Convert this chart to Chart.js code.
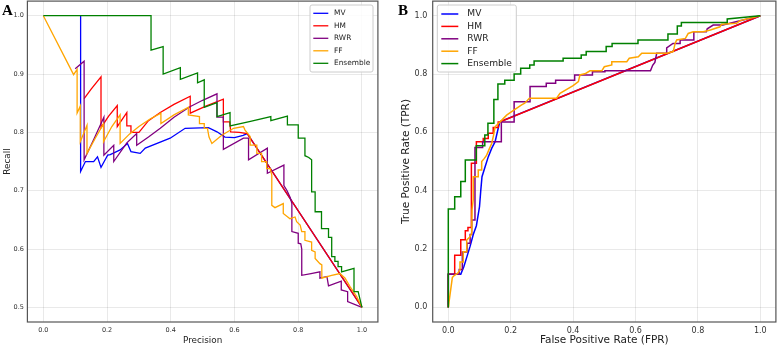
<!DOCTYPE html>
<html>
<head>
<meta charset="utf-8">
<script src="https://cdn.jsdelivr.net/npm/chart.js@4.4.0/dist/chart.umd.min.js"></script>
<style>
  body { margin: 0; background: #fff; }
  #wrap { position: relative; width: 777px; height: 348px; overflow: hidden; }
  canvas { position: absolute; top: 0; }
  .tag { position: absolute; font-family: "Liberation Serif", "DejaVu Serif", serif; font-weight: bold; font-size: 15px; line-height: 1; color: #000; }
</style>
</head>
<body>
<div id="wrap">
  <canvas id="chartA" width="388" height="348" style="left:0"></canvas>
  <canvas id="chartB" width="389" height="348" style="left:388px"></canvas>
  <div class="tag" style="left:2px; top:3px">A</div>
  <div class="tag" style="left:398px; top:3px">B</div>
</div>
<script>
// series names + colours (same order in both panels)
const seriesNames = ["MV", "HM", "RWR", "FF", "Ensemble"];
const seriesColors = ["#0000ff", "#ff0000", "#800080", "#ffa500", "#008000"];

// tick labels
const prXTicks = [0.0, 0.2, 0.4, 0.6, 0.8, 1.0];
const prYTicks = [0.5, 0.6, 0.7, 0.8, 0.9, 1.0];
const rocTicks = [0.0, 0.2, 0.4, 0.6, 0.8, 1.0];

// panel A : [precision, recall] pairs
const prMV = [[0.117,1.0],[0.117,0.733],[0.132,0.75],[0.158,0.75],[0.170,0.758],[0.181,0.74],[0.194,0.753],[0.202,0.761],[0.210,0.762],[0.241,0.770],[0.264,0.781],[0.275,0.767],[0.304,0.764],[0.320,0.773],[0.398,0.790],[0.445,0.807],[0.518,0.808],[0.545,0.801],[0.57,0.792],[0.60,0.791],[0.627,0.795],[0.64,0.798],[1.0,0.5]];
const prHM = [[0.128,0.858],[0.15,0.874],[0.181,0.895],[0.181,0.808],[0.205,0.828],[0.232,0.846],[0.232,0.81],[0.262,0.834],[0.262,0.811],[0.275,0.811],[0.275,0.80],[0.30,0.80],[0.33,0.82],[0.367,0.834],[0.41,0.848],[0.461,0.862],[0.461,0.833],[0.51,0.845],[0.565,0.857],[0.565,0.818],[0.585,0.818],[0.588,0.801],[0.615,0.80],[0.64,0.798],[1.0,0.5]];
const prRWR = [[0.10,0.909],[0.128,0.922],[0.128,0.753],[0.16,0.79],[0.19,0.826],[0.19,0.761],[0.221,0.778],[0.221,0.750],[0.262,0.782],[0.293,0.798],[0.293,0.778],[0.33,0.792],[0.367,0.807],[0.41,0.826],[0.46,0.844],[0.50,0.855],[0.545,0.866],[0.545,0.826],[0.565,0.826],[0.565,0.771],[0.628,0.79],[0.644,0.79],[0.644,0.753],[0.703,0.773],[0.703,0.730],[0.755,0.744],[0.755,0.709],[0.765,0.70],[0.775,0.688],[0.78,0.678],[0.78,0.630],[0.80,0.627],[0.80,0.61],[0.808,0.609],[0.811,0.60],[0.811,0.555],[0.84,0.558],[0.868,0.561],[0.868,0.55],[0.89,0.553],[0.895,0.537],[0.935,0.545],[0.935,0.53],[0.955,0.527],[0.955,0.51],[1.0,0.5]];
const prFF = [[0,1.0],[0.095,0.899],[0.106,0.908],[0.106,0.833],[0.116,0.845],[0.116,0.784],[0.137,0.812],[0.137,0.764],[0.163,0.790],[0.189,0.815],[0.189,0.784],[0.215,0.81],[0.241,0.830],[0.241,0.781],[0.27,0.797],[0.30,0.81],[0.335,0.823],[0.369,0.833],[0.369,0.815],[0.41,0.83],[0.455,0.843],[0.455,0.830],[0.49,0.827],[0.49,0.815],[0.505,0.815],[0.505,0.807],[0.515,0.807],[0.52,0.792],[0.529,0.781],[0.56,0.795],[0.597,0.807],[0.628,0.81],[0.633,0.804],[0.649,0.793],[0.649,0.778],[0.670,0.778],[0.670,0.764],[0.685,0.764],[0.685,0.750],[0.701,0.750],[0.701,0.738],[0.712,0.738],[0.717,0.727],[0.717,0.675],[0.727,0.671],[0.753,0.678],[0.753,0.661],[0.774,0.652],[0.79,0.655],[0.795,0.647],[0.806,0.641],[0.811,0.630],[0.821,0.630],[0.821,0.615],[0.842,0.612],[0.842,0.598],[0.853,0.595],[0.853,0.584],[0.868,0.575],[0.874,0.573],[0.874,0.550],[0.905,0.555],[0.931,0.558],[0.947,0.550],[0.962,0.536],[0.973,0.527],[0.983,0.519],[1.0,0.5]];
const prEns = [[0,1.0],[0.338,1.0],[0.338,0.941],[0.376,0.947],[0.376,0.900],[0.43,0.911],[0.43,0.891],[0.484,0.902],[0.484,0.885],[0.505,0.890],[0.505,0.843],[0.545,0.851],[0.545,0.827],[0.586,0.834],[0.586,0.811],[0.65,0.819],[0.714,0.827],[0.714,0.820],[0.766,0.828],[0.766,0.813],[0.80,0.813],[0.80,0.79],[0.821,0.79],[0.821,0.76],[0.833,0.757],[0.842,0.753],[0.842,0.698],[0.853,0.698],[0.853,0.664],[0.873,0.664],[0.873,0.635],[0.895,0.635],[0.895,0.62],[0.905,0.62],[0.905,0.587],[0.915,0.587],[0.915,0.579],[0.925,0.579],[0.925,0.57],[0.936,0.57],[0.936,0.561],[0.975,0.567],[0.975,0.527],[0.988,0.527],[1.0,0.5]];

// panel B : [fpr, tpr] pairs
const rocMV = [[0,0],[0,0.114],[0.04,0.114],[0.05,0.14],[0.06,0.175],[0.07,0.21],[0.08,0.25],[0.09,0.28],[0.10,0.345],[0.104,0.40],[0.108,0.448],[0.118,0.482],[0.128,0.516],[0.139,0.545],[0.15,0.568],[0.16,0.614],[0.165,0.636],[1,1]];
const rocHM = [[0,0],[0,0.114],[0.0205,0.114],[0.0205,0.179],[0.040,0.179],[0.040,0.232],[0.0545,0.232],[0.0545,0.263],[0.063,0.263],[0.063,0.274],[0.074,0.274],[0.074,0.494],[0.09,0.494],[0.09,0.568],[0.112,0.568],[0.112,0.579],[0.128,0.579],[0.128,0.597],[0.144,0.597],[0.144,0.617],[0.16,0.617],[0.16,0.636],[0.165,0.636],[1,1]];
const rocRWR = [[0,0],[0,0.114],[0.035,0.114],[0.035,0.13],[0.045,0.13],[0.045,0.19],[0.06,0.19],[0.06,0.22],[0.07,0.22],[0.07,0.25],[0.075,0.25],[0.075,0.30],[0.0855,0.30],[0.0855,0.548],[0.11,0.548],[0.11,0.568],[0.17,0.568],[0.17,0.636],[0.211,0.636],[0.211,0.705],[0.262,0.705],[0.262,0.757],[0.314,0.757],[0.314,0.768],[0.344,0.768],[0.344,0.779],[0.405,0.779],[0.405,0.797],[0.462,0.797],[0.462,0.808],[0.502,0.808],[0.502,0.811],[0.648,0.811],[0.655,0.83],[0.662,0.84],[0.668,0.871],[0.70,0.871],[0.70,0.89],[0.72,0.905],[0.743,0.905],[0.743,0.917],[0.787,0.917],[0.787,0.945],[0.827,0.945],[0.83,0.955],[0.849,0.968],[0.88,0.968],[1,1]];
const rocFF = [[0,0],[0.013,0.103],[0.02,0.11],[0.03,0.117],[0.0375,0.128],[0.0375,0.156],[0.048,0.156],[0.048,0.191],[0.059,0.191],[0.059,0.231],[0.068,0.24],[0.075,0.254],[0.076,0.334],[0.08,0.37],[0.08,0.448],[0.096,0.448],[0.096,0.471],[0.107,0.471],[0.107,0.50],[0.115,0.51],[0.123,0.522],[0.13,0.54],[0.139,0.562],[0.145,0.59],[0.15,0.619],[0.166,0.636],[0.187,0.659],[0.203,0.671],[0.235,0.694],[0.245,0.70],[0.26,0.717],[0.347,0.717],[0.358,0.734],[0.40,0.76],[0.417,0.774],[0.422,0.797],[0.44,0.802],[0.454,0.811],[0.492,0.811],[0.50,0.825],[0.524,0.831],[0.524,0.842],[0.572,0.842],[0.58,0.854],[0.609,0.859],[0.62,0.871],[0.70,0.871],[0.721,0.877],[0.727,0.905],[0.732,0.917],[0.76,0.922],[0.769,0.939],[0.785,0.945],[0.817,0.945],[0.84,0.951],[0.871,0.962],[0.876,0.971],[0.924,0.974],[0.935,0.983],[1,1]];
const rocEns = [[0,0],[0,0.337],[0.0205,0.337],[0.0205,0.379],[0.040,0.379],[0.040,0.432],[0.0545,0.432],[0.0545,0.505],[0.0897,0.505],[0.0897,0.554],[0.117,0.554],[0.117,0.591],[0.127,0.591],[0.127,0.631],[0.146,0.631],[0.146,0.713],[0.159,0.713],[0.159,0.766],[0.181,0.766],[0.181,0.779],[0.211,0.779],[0.211,0.800],[0.232,0.800],[0.232,0.820],[0.261,0.820],[0.261,0.831],[0.275,0.831],[0.275,0.845],[0.368,0.845],[0.368,0.854],[0.426,0.854],[0.426,0.865],[0.442,0.865],[0.442,0.877],[0.506,0.877],[0.506,0.894],[0.525,0.894],[0.525,0.905],[0.608,0.905],[0.608,0.917],[0.704,0.917],[0.704,0.937],[0.734,0.937],[0.734,0.965],[0.747,0.965],[0.747,0.977],[0.894,0.977],[0.894,0.989],[1,1]];

const FONT = '"DejaVu Sans", sans-serif';

// matplotlib style frame around the plot area
const framePlugin = {
    id: 'frame',
    afterDraw(chart) {
        const a = chart.chartArea, ctx = chart.ctx;
        ctx.save();
        ctx.strokeStyle = '#555';
        ctx.lineWidth = 1.2;
        ctx.strokeRect(a.left, a.top, a.right - a.left, a.bottom - a.top);
        ctx.restore();
    }
};

// legend box drawn by hand (matplotlib look)
const legendPlugin = {
    id: 'mplLegend',
    afterDatasetsDraw(chart, args, o) {
        const ctx = chart.ctx;
        ctx.save();
        ctx.beginPath();
        ctx.roundRect(o.x, o.y, o.w, o.h, 2);
        ctx.fillStyle = 'rgba(255,255,255,0.85)';
        ctx.fill();
        ctx.strokeStyle = '#cccccc';
        ctx.lineWidth = 1;
        ctx.stroke();
        ctx.font = o.size + 'px ' + FONT;
        ctx.textBaseline = 'middle';
        seriesNames.forEach(function(name, i) {
            const y = o.y0 + i * o.dy;
            ctx.strokeStyle = seriesColors[i];
            ctx.lineWidth = o.lw;
            ctx.beginPath();
            ctx.moveTo(o.hx, y);
            ctx.lineTo(o.hx + o.hl, y);
            ctx.stroke();
            ctx.fillStyle = '#222';
            ctx.fillText(name, o.tx, y);
        });
        ctx.restore();
    }
};

function toPoints(arr) {
    return arr.map(function(p) { return { x: p[0], y: p[1] }; });
}

function makeChart(id, series, cfg) {
    const datasets = series.map(function(s, i) {
        return {
            label: seriesNames[i],
            data: toPoints(s),
            showLine: true,
            borderColor: seriesColors[i],
            backgroundColor: seriesColors[i],
            borderWidth: cfg.lw,
            pointRadius: 0,
            tension: 0,
            order: series.length - i // ensemble on top
        };
    });

    function axis(min, max, ticks, title, size, tickPad, titlePad, fitSize) {
        return {
            type: 'linear',
            min: min,
            max: max,
            afterBuildTicks: function(scale) {
                scale.ticks = ticks.map(function(v) { return { value: v }; });
            },
            afterFit: function(scale) {
                // fixed axis size, no extra edge padding for labels
                if (scale.isHorizontal()) scale.height = fitSize; else scale.width = fitSize;
                scale.paddingTop = 0; scale.paddingBottom = 0;
                scale.paddingLeft = 0; scale.paddingRight = 0;
            },
            ticks: {
                color: '#333',
                padding: tickPad,
                font: { family: FONT, size: cfg.tickSize },
                callback: function(v) { return Number(v).toFixed(1); }
            },
            grid: { color: 'rgba(0,0,0,0.11)', lineWidth: 0.8, drawTicks: false },
            border: { display: false },
            title: {
                display: true,
                text: title,
                color: '#222',
                font: { family: FONT, size: size },
                padding: titlePad
            }
        };
    }

    return new Chart(document.getElementById(id), {
        type: 'scatter',
        data: { datasets: datasets },
        plugins: [framePlugin, legendPlugin],
        options: {
            responsive: false,
            animation: false,
            devicePixelRatio: 1,
            layout: { padding: cfg.padding },
            scales: {
                x: axis(-0.05, 1.05, cfg.xTicks, cfg.xTitle, cfg.titleSize, cfg.xTickPad, cfg.xTitlePad, cfg.xHeight),
                y: axis(cfg.yMin, cfg.yMax, cfg.yTicks, cfg.yTitle, cfg.titleSize, cfg.yTickPad, cfg.yTitlePad, cfg.yWidth)
            },
            plugins: {
                legend: { display: false },
                tooltip: { enabled: false },
                mplLegend: cfg.legend
            }
        }
    });
}

// panel A
makeChart('chartA', [prMV, prHM, prRWR, prFF, prEns], {
    lw: 1.3, tickSize: 6.5, titleSize: 8.8,
    xTicks: prXTicks, yTicks: prYTicks, yMin: 0.475, yMax: 1.025,
    xTitle: 'Precision', yTitle: 'Recall',
    xTickPad: 4, yTickPad: 3.5,
    xTitlePad: { top: 0, bottom: 2 }, yTitlePad: { top: 2, bottom: 0 },
    xHeight: 26, yWidth: 27.4,
    padding: { left: 0, right: 10.1, top: 1.1, bottom: 0 },
    legend: { x: 310, y: 5, w: 63, h: 67, y0: 13.3, dy: 12.5, hx: 313.3, hl: 15, tx: 334, size: 7.4, lw: 1.3 }
});

// panel B
makeChart('chartB', [rocMV, rocHM, rocRWR, rocFF, rocEns], {
    lw: 1.5, tickSize: 8, titleSize: 10.5,
    xTicks: rocTicks, yTicks: rocTicks, yMin: -0.05, yMax: 1.05,
    xTitle: 'False Positive Rate (FPR)', yTitle: 'True Positive Rate (TPR)',
    xTickPad: 4, yTickPad: 5.4,
    xTitlePad: { top: 0, bottom: 1 }, yTitlePad: { top: 11.5, bottom: 0 },
    xHeight: 26, yWidth: 44.7,
    padding: { left: 0, right: 1.1, top: 1.1, bottom: 0 },
    legend: { x: 49.3, y: 5, w: 79, h: 67, y0: 14, dy: 12.4, hx: 53.3, hl: 17, tx: 79.3, size: 9.1, lw: 1.5 }
});
</script>
</body>
</html>
